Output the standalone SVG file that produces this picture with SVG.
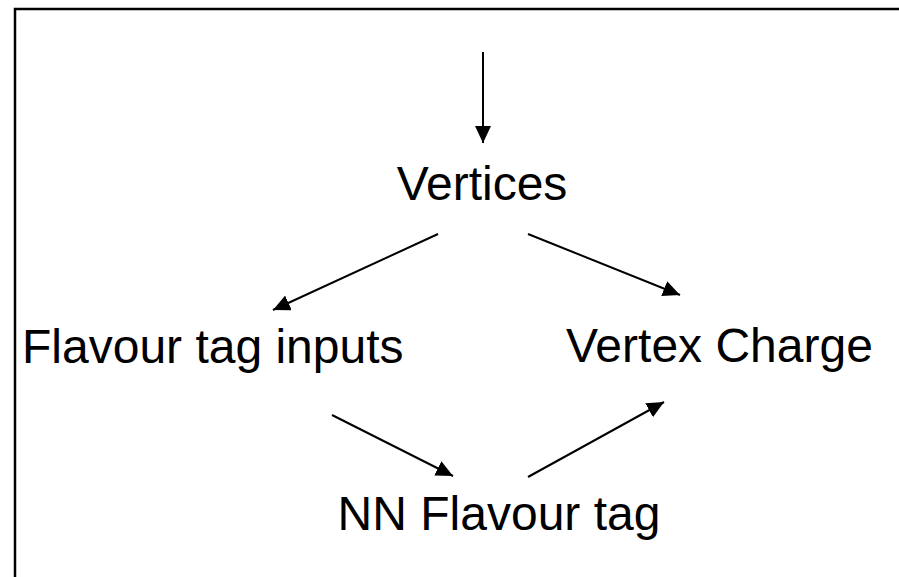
<svg xmlns="http://www.w3.org/2000/svg" width="899" height="577" viewBox="0 0 899 577">
<style>
.lbl{font-family:"Liberation Sans",Arial,sans-serif;font-size:48px;fill:#000}
.edge{stroke:#000;stroke-width:2;fill:none;marker-end:url(#ah)}
</style>
<defs>
<marker id="ah" viewBox="0 0 17 16" refX="17" refY="8" markerWidth="17" markerHeight="16" markerUnits="userSpaceOnUse" orient="auto">
<path d="M0,0 L17,8 L0,16 z" fill="#000"/>
</marker>
</defs>
<rect width="899" height="577" fill="#fff"/>
<path d="M15,577 V9 H899" stroke="#000" stroke-width="2.5" fill="none"/>
<g id="connectors">
<line class="edge" x1="483" y1="52" x2="483" y2="143"/>
<line class="edge" x1="438" y1="234" x2="273" y2="310"/>
<line class="edge" x1="528" y1="234" x2="680" y2="295"/>
<line class="edge" x1="332" y1="415" x2="453" y2="476"/>
<line class="edge" x1="528" y1="477" x2="664" y2="402"/>
</g>
<g id="vertices"><text class="lbl" x="482" y="200" text-anchor="middle">Vertices</text></g>
<g id="flavour-tag-inputs"><text class="lbl" x="22" y="363">Flavour tag inputs</text></g>
<g id="vertex-charge"><text class="lbl" x="566" y="362">Vertex Charge</text></g>
<g id="nn-flavour-tag"><text class="lbl" x="499" y="530" text-anchor="middle">NN Flavour tag</text></g>
</svg>
